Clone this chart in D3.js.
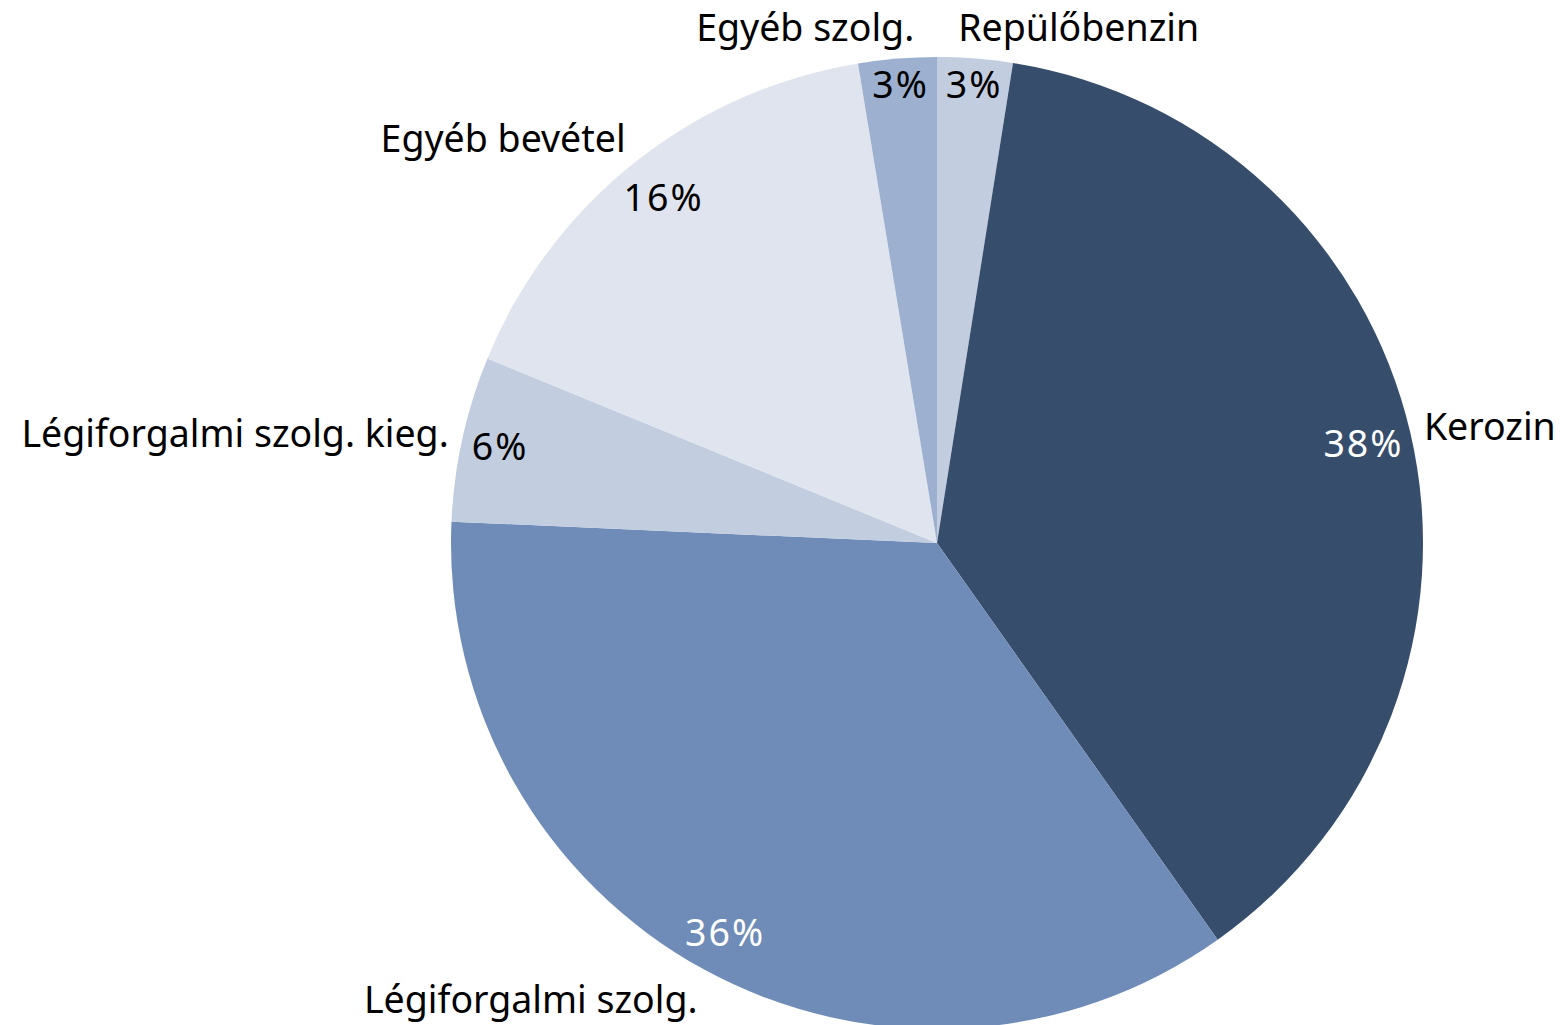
<!DOCTYPE html>
<html lang="hu">
    <head>
        <meta charset="UTF-8">
        <title>Bevételek megoszlása</title>
        <script src="https://d3js.org/d3.v7.min.js"></script>
        <style>
            body { margin: 0; background: #fff; }
            text { font-family: "Noto Sans", "Open Sans", sans-serif; }
        </style>
    </head>
    <body>
        <script>
            // adatok (a képről becsülve, %)
            var categories = ["Repülőbenzin", "Kerozin", "Légiforgalmi szolg.", "Légiforgalmi szolg. kieg.", "Egyéb bevétel", "Egyéb szolg."];
            var values = [2.5, 37.7, 35.5, 5.5, 16.2, 2.6];
            var colors = ["#c3cde0", "#374d6c", "#6e8cb7", "#c3cde0", "#dfe4ee", "#9db0cf"];
            var pctColors = ["#000", "#fff", "#fff", "#000", "#000", "#000"];

            var width = 1560, height = 1025;
            var cx = 937, cy = 543, R = 486;
            var fontSize = 37.5;

            var svg = d3.select("body")
                    .append("svg")
                    .attr("width", width)
                    .attr("height", height);

            var data = categories.map(function(c, i) {
                return { name: c, value: values[i], color: colors[i], pc: pctColors[i] };
            });

            var pie = d3.pie().sort(null).value(function(d) { return d.value; });
            var arc = d3.arc().innerRadius(0).outerRadius(R);
            var total = d3.sum(values);

            var g = svg.append("g").attr("transform", "translate(" + cx + "," + cy + ")");
            var arcs = pie(data);

            g.selectAll("path.slice")
                .data(arcs)
                .enter()
                .append("path")
                .attr("class", "slice")
                .attr("d", arc)
                .attr("fill", function(d) { return d.data.color; });

            // százalék címkék: a körív belső szélére illesztve
            arcs.forEach(function(d) {
                var a = (d.startAngle + d.endAngle) / 2;
                var sx = Math.sin(a), sy = -Math.cos(a);
                var t = g.append("text")
                    .attr("text-anchor", "middle")
                    .attr("font-size", fontSize)
                    .attr("letter-spacing", 2)
                    .attr("fill", d.data.pc)
                    .text(Math.round(d.data.value / total * 100) + "%");
                var w = t.node().getComputedTextLength();
                var h = fontSize * 0.95;
                var lim = R - 6, r = lim;
                for (var k = 0; k < 30; k++) {
                    var px = r * sx + Math.sign(sx) * w / 2;
                    var py = r * sy + Math.sign(sy) * h / 2;
                    r -= Math.sqrt(px * px + py * py) - lim;
                }
                t.attr("x", r * sx + 1).attr("y", r * sy).attr("dy", "0.35em");
            });

            // kategória címkék a körön kívül
            arcs.forEach(function(d) {
                var a = (d.startAngle + d.endAngle) / 2;
                var sx = Math.sin(a), sy = -Math.cos(a);
                var r = R + 14;
                var x = r * sx, y = r * sy;
                var anchor = sx >= 0 ? "start" : "end";
                if (Math.abs(sx) < 0.15) x -= Math.sign(sx) * 18;
                var h = fontSize;
                g.append("text")
                    .attr("x", x)
                    .attr("y", y + sy * h / 2 + 2)
                    .attr("dy", "0.35em")
                    .attr("text-anchor", anchor)
                    .attr("font-size", fontSize)
                    .attr("fill", "#000")
                    .text(d.data.name);
            });
        </script>
    </body>
</html>
